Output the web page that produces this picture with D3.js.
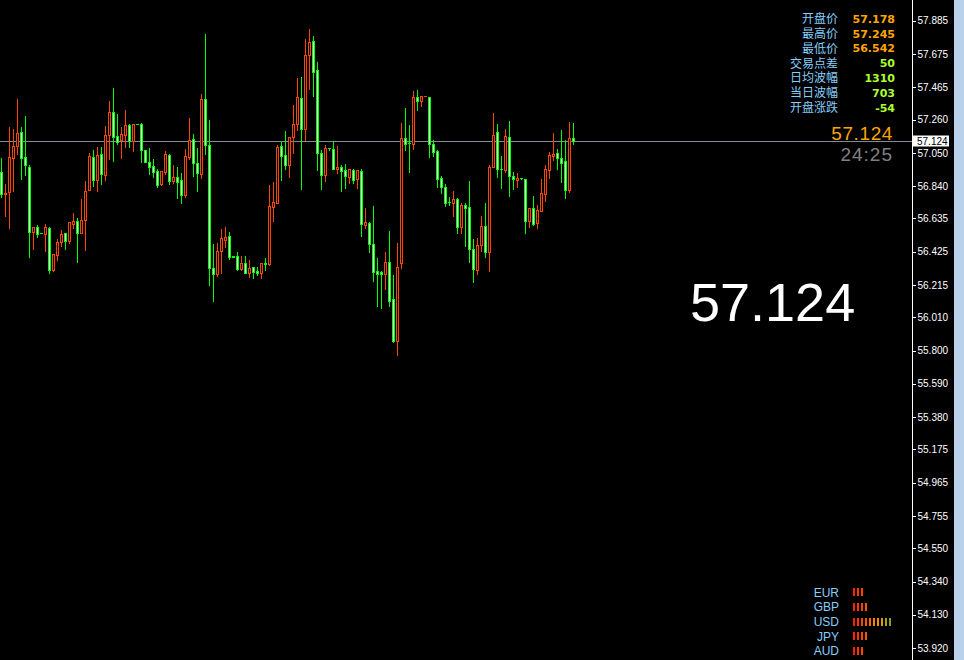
<!DOCTYPE html>
<html><head><meta charset="utf-8">
<script src="https://cdn.jsdelivr.net/npm/d3@7"></script>
<style>html,body{margin:0;padding:0;background:#000;overflow:hidden}svg{display:block}</style>
</head><body>
<script>
// ---- data (prices) ----
const open = [56.927,56.788,56.801,57.019,57.092,57.180,57.022,56.959,56.552,56.581,56.542,56.539,56.575,56.308,56.406,56.489,56.542,56.495,56.602,56.617,
56.545,56.628,56.817,57.022,56.880,57.041,56.912,57.165,57.306,57.155,57.129,57.161,57.224,57.123,57.232,57.231,57.065,56.994,56.965,56.933,
56.853,56.931,57.035,56.874,56.899,56.877,56.784,57.026,57.136,56.988,56.914,57.390,57.098,56.320,56.286,56.428,56.501,56.523,56.396,56.396,
56.318,56.352,56.293,56.327,56.303,56.293,56.352,56.349,56.710,56.735,57.093,57.035,56.975,57.152,57.232,57.395,57.203,57.671,57.757,57.572,
57.047,56.912,57.080,57.073,56.948,56.961,56.942,56.899,56.942,56.883,56.935,56.596,56.607,56.474,56.303,56.297,56.286,56.360,56.124,55.863,
56.356,57.142,57.111,57.108,57.401,57.380,57.407,57.401,57.104,57.060,56.889,56.832,56.738,56.735,56.757,56.583,56.719,56.710,56.444,56.310,
56.470,56.586,56.425,56.959,57.180,56.947,56.944,57.152,56.902,56.880,56.890,56.887,56.617,56.700,56.609,56.684,56.792,56.944,57.032,57.047,
57.018,56.997,56.817,57.142];
const high = [57.016,56.853,57.214,57.199,57.389,57.212,57.281,56.971,56.580,56.594,56.542,56.600,56.583,56.411,56.504,56.562,56.542,56.611,56.670,56.640,
56.758,56.874,57.049,57.068,57.087,57.087,57.220,57.378,57.460,57.294,57.212,57.321,57.234,57.234,57.233,57.239,57.065,57.079,57.009,56.946,
56.933,57.062,57.043,56.973,56.961,56.921,57.074,57.270,57.169,57.081,57.422,57.801,57.258,56.474,56.478,56.569,56.581,56.550,56.397,56.423,
56.396,56.398,56.373,56.327,56.330,56.352,56.385,56.847,56.866,57.100,57.119,57.188,57.152,57.353,57.523,57.530,57.770,57.833,57.789,57.624,
57.066,57.100,57.083,57.127,57.093,56.973,56.980,56.946,56.948,56.942,56.948,56.702,56.615,56.714,56.385,56.303,56.421,56.556,56.278,56.480,
57.239,57.334,57.226,57.441,57.447,57.408,57.410,57.401,57.131,57.066,56.906,56.851,56.769,56.809,56.763,56.731,56.735,56.872,56.506,56.510,
56.651,56.733,56.973,57.302,57.232,57.030,57.201,57.251,56.927,56.923,56.891,56.887,56.700,56.777,56.720,56.885,56.973,57.057,57.176,57.074,
57.195,57.129,57.245,57.239];
const low = [56.773,56.651,56.577,56.811,57.043,56.887,56.908,56.394,56.444,56.520,56.540,56.432,56.289,56.306,56.373,56.461,56.444,56.482,56.573,56.362,
56.545,56.436,56.815,56.842,56.811,56.853,56.877,57.013,57.000,57.104,57.019,57.085,57.085,57.060,57.229,56.992,56.993,56.914,56.899,56.834,
56.847,56.916,56.853,56.858,56.767,56.731,56.771,57.011,56.906,56.811,56.893,57.045,56.215,56.116,56.274,56.293,56.457,56.381,56.393,56.310,
56.310,56.289,56.267,56.259,56.278,56.259,56.310,56.341,56.619,56.731,56.879,56.948,56.897,57.047,57.195,56.824,57.129,57.456,57.411,56.942,
56.824,56.874,57.068,56.946,56.925,56.811,56.830,56.861,56.860,56.830,56.526,56.577,56.425,56.242,56.082,56.068,56.190,56.084,55.856,55.772,
56.324,57.070,56.931,57.076,57.321,57.348,57.406,57.026,57.032,56.836,56.794,56.716,56.720,56.651,56.545,56.545,56.461,56.362,56.236,56.284,
56.432,56.394,56.305,56.959,56.899,56.826,56.927,56.779,56.820,56.836,56.887,56.542,56.583,56.594,56.573,56.684,56.744,56.893,57.005,56.950,
56.868,56.767,56.805,57.108];
const close = [56.788,56.794,57.024,57.092,57.176,57.019,56.971,56.552,56.580,56.539,56.540,56.580,56.308,56.409,56.485,56.537,56.495,56.611,56.619,56.545,
56.626,56.807,57.030,56.880,57.035,56.914,57.161,57.306,57.152,57.121,57.167,57.224,57.123,57.232,57.230,57.068,56.995,56.959,56.931,56.847,
56.933,57.041,56.874,56.896,56.868,56.786,57.030,57.131,56.988,56.921,57.390,57.098,56.320,56.286,56.430,56.510,56.518,56.394,56.394,56.314,
56.354,56.293,56.322,56.299,56.293,56.352,56.350,56.712,56.739,57.087,57.030,56.973,57.152,57.232,57.401,57.199,57.669,57.749,57.563,57.047,
56.912,57.079,57.078,56.946,56.961,56.937,56.902,56.946,56.877,56.942,56.602,56.611,56.476,56.299,56.286,56.286,56.360,56.114,55.863,56.327,
57.142,57.108,57.109,57.401,57.380,57.408,57.409,57.108,57.054,56.887,56.836,56.735,56.736,56.757,56.583,56.719,56.703,56.444,56.318,56.466,
56.586,56.425,56.959,57.161,56.946,56.945,57.155,56.904,56.887,56.889,56.888,56.617,56.700,56.602,56.689,56.794,56.946,57.035,57.041,57.018,
56.988,56.817,57.142,57.124];
const categories = open.map((_, i) => i);           // bar index (no visible time axis)
const tickValues = [57.885,57.675,57.465,57.260,57.050,56.840,56.635,56.425,56.215,56.010,55.800,55.590,55.380,55.175,54.965,54.755,54.550,54.340,54.130,53.920];
const yDomain = [53.920, 57.885];
const currentPrice = 57.124;
const countdown = "24:25";
const infoLabels = ["开盘价","最高价","最低价","交易点差","日均波幅","当日波幅","开盘涨跌"];
const infoValues = ["57.178","57.245","56.542","50","1310","703","-54"];
const currencies = ["EUR","GBP","USD","JPY","AUD"];
const strength = [3,4,10,4,3];
const strengthColors = ["#ff2200","#ff3300","#ff4400","#ff5500","#ff6a00","#ff7d00","#f29000","#d89e00","#a8a410","#7ea41c"];

// ---- drawing ----
const W = 964, H = 660;
const svg = d3.select("body").append("svg").attr("width", W).attr("height", H)
  .style("background", "#000");
svg.append("rect").attr("width", W).attr("height", H).attr("fill", "#000");

const x = d3.scalePoint().domain(categories).range([1.5, 573.5]);
const y = d3.scaleLinear().domain(yDomain).range([648, 20.7]);
const UP = "#ff4500", DOWN = "#00ff00", DOWN_IN = "#d6ffd6";

// current price line
const yc = Math.round(y(currentPrice)) + 0.5;
svg.append("line").attr("x1", 0).attr("x2", 912).attr("y1", yc).attr("y2", yc)
  .attr("stroke", "#808c98").attr("stroke-width", 1).attr("shape-rendering", "crispEdges");

const g = svg.append("g").attr("shape-rendering", "crispEdges");
const bars = categories.map(i => ({i, o: open[i], h: high[i], l: low[i], c: close[i]}));
bars.forEach(b => {
  const cx = x(b.i);
  const up = b.c > b.o;
  const col = up ? UP : DOWN;
  const yh = Math.round(y(b.h)), yl = Math.round(y(b.l));
  const yt = Math.round(y(Math.max(b.o, b.c))), yb = Math.round(y(Math.min(b.o, b.c)));
  g.append("rect").attr("x", cx - 0.5).attr("width", 1).attr("y", yh).attr("height", Math.max(1, yl - yh + 1)).attr("fill", col);
  g.append("rect").attr("x", cx - 1.5).attr("width", 3).attr("y", yt).attr("height", Math.max(1, yb - yt + 1)).attr("fill", col);
  if (yb - yt - 1 > 0) {
    g.append("rect").attr("x", cx - 0.5).attr("width", 1).attr("y", yt + 1).attr("height", yb - yt - 1)
      .attr("fill", up ? "#000" : DOWN_IN);
  }
});

// right axis
svg.append("line").attr("x1", 912.5).attr("x2", 912.5).attr("y1", 0).attr("y2", H)
  .attr("stroke", "#fff").attr("shape-rendering", "crispEdges");
const axis = svg.append("g").attr("transform", "translate(912.5,0)")
  .call(d3.axisRight(y).tickValues(tickValues).tickSize(3).tickPadding(2).tickFormat(d3.format(".3f")));
axis.select(".domain").remove();
axis.selectAll(".tick line").attr("stroke", "#fff").attr("shape-rendering", "crispEdges");
axis.selectAll(".tick text").attr("fill", "#fff").attr("font-family", "Liberation Sans, Arial, sans-serif").attr("font-size", 10);

// right scrollbar strip
svg.append("rect").attr("x", 954).attr("y", 0).attr("width", 10).attr("height", H).attr("fill", "#b9d1ea");

// price box on the axis
svg.append("rect").attr("x", 913).attr("y", yc - 6).attr("width", 36).attr("height", 11).attr("fill", "#fff");
svg.append("text").attr("x", 917).attr("y", yc).attr("dy", "0.35em").attr("fill", "#000")
  .attr("font-family", "Liberation Sans, Arial, sans-serif").attr("font-size", 10).text(currentPrice.toFixed(3));

// info panel
const info = svg.append("g");
infoLabels.forEach((t, i) => {
  const cy = 18.8 + i * 14.83;
  info.append("text").attr("x", 838).attr("y", cy).attr("dy", "0.36em").attr("text-anchor", "end")
    .attr("fill", "#87cefa").attr("font-family", "Noto Sans CJK SC, sans-serif").attr("font-size", 12).text(t);
  info.append("text").attr("x", 895).attr("y", cy).attr("dy", "0.36em").attr("text-anchor", "end")
    .attr("fill", i < 3 ? "#ffa500" : "#adff2f").attr("font-weight", "bold")
    .attr("font-family", "DejaVu Sans, sans-serif").attr("font-size", 11).text(infoValues[i]);
});

// current price and countdown
svg.append("text").attr("x", 893).attr("y", 139.7).attr("text-anchor", "end").attr("fill", "#ffa500")
  .attr("font-family", "Liberation Sans, Arial, sans-serif").attr("font-size", 19).attr("letter-spacing", 0.6)
  .text(currentPrice.toFixed(3));
svg.append("text").attr("x", 893).attr("y", 161).attr("text-anchor", "end").attr("fill", "#808080")
  .attr("font-family", "Liberation Sans, Arial, sans-serif").attr("font-size", 19).attr("letter-spacing", 1)
  .text(countdown);

// big price
svg.append("text").attr("x", 690).attr("y", 320.5).attr("fill", "#fff")
  .attr("font-family", "Liberation Sans, Arial, sans-serif").attr("font-size", 54)
  .text(currentPrice.toFixed(3));

// currency strength
currencies.forEach((c, i) => {
  const cy = 592.2 + i * 14.7;
  svg.append("text").attr("x", 839).attr("y", cy).attr("dy", "0.36em").attr("text-anchor", "end")
    .attr("fill", "#87cefa").attr("font-family", "Liberation Sans, Arial, sans-serif").attr("font-size", 12).text(c);
  d3.range(strength[i]).forEach(k => {
    svg.append("rect").attr("x", 853 + k * 4).attr("y", Math.round(cy) - 4).attr("width", 2).attr("height", 8)
      .attr("fill", strengthColors[k]).attr("shape-rendering", "crispEdges");
  });
});
</script>
</body></html>
